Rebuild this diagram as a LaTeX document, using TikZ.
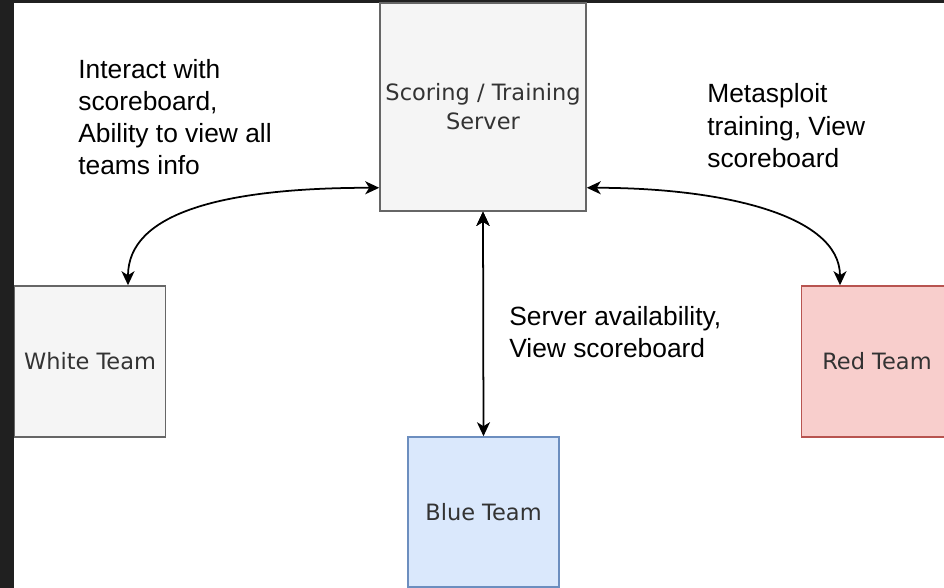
\documentclass[tikz,border=0pt]{standalone}
\usepackage{fontspec}
\setmainfont{Liberation Sans}
\newfontfamily\boxfont{DejaVu Sans}
\usetikzlibrary{arrows.meta}
\definecolor{grayfill}{HTML}{F5F5F5}
\definecolor{grayline}{HTML}{666666}
\definecolor{bluefill}{HTML}{DAE8FC}
\definecolor{blueline}{HTML}{6C8EBF}
\definecolor{redfill}{HTML}{F8CECC}
\definecolor{redline}{HTML}{B85450}
\definecolor{boxtext}{HTML}{333333}
\definecolor{darkbg}{HTML}{202020}
\tikzset{
  teambox/.style={shape=rectangle, line width=0.9pt, minimum width=3.02cm, minimum height=3.02cm, inner sep=0pt, align=center, font=\boxfont\fontsize{12.8}{16.6}\selectfont, text=boxtext},
  note/.style={anchor=north west, inner sep=0pt, align=left, font=\fontsize{15}{18.3}\selectfont},
  link/.style={{Stealth[length=0.28cm,width=0.26cm,inset=0.08cm]}-{Stealth[length=0.28cm,width=0.26cm,inset=0.08cm]}, line width=1pt, draw=black}
}
\begin{document}
\begin{tikzpicture}[x=0.02cm, y=-0.02cm]
\useasboundingbox (0,0) rectangle (944,588);
\fill[darkbg] (0,0) rectangle (944,588);
\fill[white] (14,3) rectangle (944,588);
\begin{scope}
\clip (14,3) rectangle (944,588);
\node[teambox, fill=grayfill, draw=grayline, minimum width=4.12cm, minimum height=4.16cm] (srv) at (483,107) {Scoring / Training\\Server};
\node[teambox, fill=grayfill, draw=grayline] (white) at (90,361.5) {White Team};
\node[teambox, fill=bluefill, draw=blueline, minimum height=3cm, text=black!80] (blue) at (483.5,512) {Blue Team};
\node[teambox, fill=redfill, draw=redline, text=black!80] (red) at (877,361.5) {Red Team};
\node[note] (lblwhite) at (78,59) {Interact with\\scoreboard,\\Ability to view all\\teams info};
\node[note] (lblred) at (707,83.5) {Metasploit\\training, View\\scoreboard};
\node[note] (lblblue) at (509,306) {Server availability,\\View scoreboard};
\draw[link] ([xshift=0.76cm]white.north) .. controls +(0,-71) and +(-160,0) .. ([yshift=0.48cm]srv.south west);
\draw[link] ([yshift=0.48cm]srv.south east) .. controls +(133,0) and +(0,-71) .. ([xshift=-0.74cm]red.north);
\path[link] (srv.south) edge (blue.north);
\end{scope}
\end{tikzpicture}
\end{document}
